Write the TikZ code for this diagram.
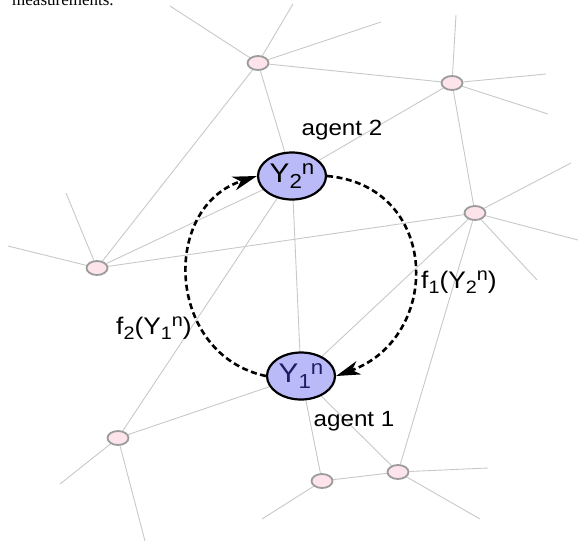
\documentclass[tikz,border=0pt]{standalone}
\usepackage{graphicx}
\usepackage{fontspec}
\setmainfont{Liberation Sans}[FakeStretch=1.1]
\newfontfamily\capfont{Liberation Serif}
\usetikzlibrary{arrows.meta,shapes.geometric,backgrounds}
\definecolor{agentblue}{RGB}{186,186,248}
\definecolor{agentnavy}{RGB}{30,30,100}
\definecolor{sensorpink}{RGB}{252,228,234}
\definecolor{sensorrim}{RGB}{155,155,155}
\definecolor{linkgray}{RGB}{200,200,200}
% index marks as the figure prints them (large, side by side)
\newcommand{\lowidx}[1]{\raisebox{-0.22em}{\scalebox{0.75}{#1}}}
\newcommand{\highidx}[1]{\raisebox{0.3em}{\scalebox{0.75}{#1}}}

\begin{document}
\begin{tikzpicture}[x=1pt,y=1pt,
    sensor/.style={ellipse,draw=sensorrim,line width=1.8pt,fill=sensorpink,
      minimum width=21pt,minimum height=14pt,inner sep=0pt},
    agent/.style={ellipse,draw=black,line width=2.2pt,fill=agentblue,
      minimum width=68pt,minimum height=47pt,inner sep=0pt,font=\fontsize{27}{30}\selectfont},
    link/.style={draw=linkgray,line width=0.9pt},
    msg/.style={line width=2.6pt,dash pattern=on 6pt off 3.5pt,
      -{Stealth[length=24pt,width=14pt,inset=7pt]}},
    lab/.style={font=\fontsize{22}{26}\selectfont},
    flab/.style={font=\fontsize{24}{28}\selectfont}]
    \useasboundingbox (0,0) rectangle (578,-544);
    % caption line cut off by the page
    \node[font={\capfont\fontsize{17}{20}\selectfont},anchor=base west,inner sep=0pt] (cap) at (12,-5) {measurements.};
    % the two agents
    \node[agent] (y2) at (292,-176) {Y\lowidx{2}\highidx{n}};
    \node[agent,text=agentnavy] (y1) at (301,-376) {Y\lowidx{1}\highidx{n}};
    % other sensors
    \node[sensor] (sa) at (258,-63) {};
    \node[sensor] (sb) at (452,-83) {};
    \node[sensor] (sc) at (475,-213) {};
    \node[sensor] (sd) at (97,-268) {};
    \node[sensor] (se) at (118,-438) {};
    \node[sensor] (sf) at (322,-481) {};
    \node[sensor] (sg) at (398,-472) {};
    % loose ends of the network
    \coordinate (sa1) at (170,-6);  \coordinate (sa2) at (293,-4);  \coordinate (sa3) at (381,-22);
    \coordinate (sb1) at (456,-15); \coordinate (sb2) at (546,-74); \coordinate (sb3) at (548,-114);
    \coordinate (sc1) at (571,-163); \coordinate (sc2) at (578,-240); \coordinate (sc3) at (537,-280);
    \coordinate (sd1) at (66,-193);  \coordinate (sd2) at (8,-246);
    \coordinate (se1) at (60,-484);  \coordinate (se2) at (145,-541);
    \coordinate (sf1) at (262,-519);
    \coordinate (sg1) at (488,-468); \coordinate (sg2) at (480,-519);
    \begin{scope}[on background layer]
      \foreach \u/\v in {sa/sb,sa/y2,sa/sd,sa/sa1,sa/sa2,sa/sa3,
          sb/sc,sb/y2,sb/sb1,sb/sb2,sb/sb3,
          sc/sd,sc/y1,sc/sg,sc/sc1,sc/sc2,sc/sc3,
          sd/y2,sd/sd1,sd/sd2,y2/y1,y2/se,y1/se,y1/sf,y1/sg,
          se/se1,se/se2,sf/sg,sf/sf1,sg/sg1,sg/sg2}
        \draw[link] (\u) -- (\v);
    \end{scope}
    % messages between the agents
    \draw[msg] (y2.east) to[out=-5,in=20,looseness=1.45] (y1.east);
    \draw[msg] (y1.west) to[out=168,in=198,looseness=1.3] (y2.west);
    \node[lab] (ag2) at (342,-130) {agent 2};
    \node[lab] (ag1) at (354,-421) {agent 1};
    \node[flab] (f1) at (459,-282) {f\lowidx{1}(Y\lowidx{2}\highidx{n})};
    \node[flab] (f2) at (154,-328) {f\lowidx{2}(Y\lowidx{1}\highidx{n})};
  \end{tikzpicture}
\end{document}
